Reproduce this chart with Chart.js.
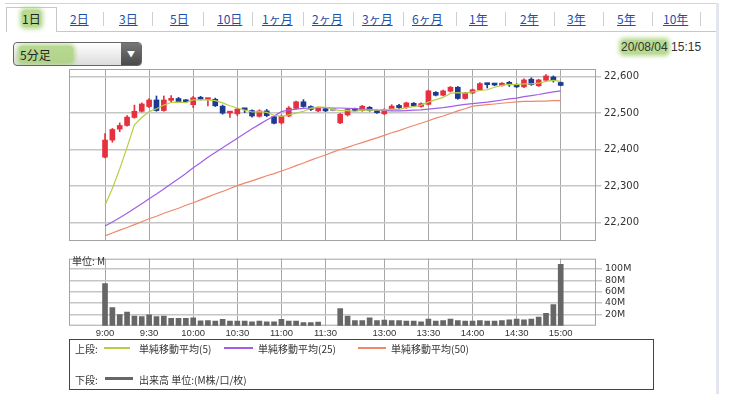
<!DOCTYPE html>
<html>
<head>
<meta charset="utf-8">
<script src="https://cdn.jsdelivr.net/npm/chart.js@4/dist/chart.umd.min.js"></script>
<style>
body { margin: 0; width: 730px; height: 394px; background: #fff; position: relative; overflow: hidden;
  font-family: "Noto Sans CJK JP", sans-serif; color: #333; }
.abs { position: absolute; }
.tabs-top { left: 5px; top: 3px; width: 711px; height: 0; border-top: 1px solid #d4d4d4; }
.tabs-line { left: 56px; top: 31px; width: 660px; height: 0; border-top: 1px solid #c8c8c8; }
.tab-sel { left: 6px; top: 7px; width: 49px; height: 24px; border: 1px solid #c8c8c8; border-bottom: none; background: #fff; }
.tab { top: 10px; font-size: 12px; color: #1d4fa8; text-decoration: underline; white-space: nowrap; }
.tab.on { color: #222; text-decoration: none; }
.sep { top: 12px; width: 0; height: 14px; border-left: 1px solid #cfcfcf; }
.hl { background: rgba(160, 205, 110, 0.75); box-shadow: 0 0 4px 2px rgba(160, 205, 110, 0.75); border-radius: 3px; }
.dd { left: 13px; top: 42px; width: 127px; height: 22px; border: 1px solid #666; border-radius: 4px;
  background: linear-gradient(#ffffff, #dcdcdc); overflow: hidden; }
.dd-btn { right: 0; top: 0; width: 20px; height: 22px; background: linear-gradient(#777, #4a4a4a); color: #fff;
  font-size: 8px; text-align: center; line-height: 22px; }
.dd-txt { left: 5px; top: 3px; font-size: 12px; color: #222; padding: 0 22px 0 1px; }
.date { left: 621px; top: 40px; font-size: 12px; font-family: "Liberation Sans", sans-serif; color: #333; white-space: nowrap; }
.edge { left: 716px; top: 3px; width: 3px; height: 391px; background: #e3e5ef; }
#priceChart { left: 60px; top: 60px; }
#volChart { left: 60px; top: 250px; }
.unit { left: 72px; top: 253px; font-size: 10px; color: #333; }
.legend { left: 69px; top: 339px; width: 585px; height: 51px; border: 1px solid #444; box-sizing: border-box; }
.lg { font-size: 10px; color: #333; white-space: nowrap; }
.lgline { height: 2px; }
</style>
</head>
<body>
<div class="abs tabs-top"></div>
<div class="abs tabs-line"></div>
<div class="abs tab-sel"></div>
<div class="abs edge"></div>

<span class="abs tab on hl" style="left:22px">1日</span>
<span class="abs tab" style="left:70px">2日</span>
<span class="abs tab" style="left:119px">3日</span>
<span class="abs tab" style="left:170px">5日</span>
<span class="abs tab" style="left:217px">10日</span>
<span class="abs tab" style="left:262px">1ヶ月</span>
<span class="abs tab" style="left:312px">2ヶ月</span>
<span class="abs tab" style="left:362px">3ヶ月</span>
<span class="abs tab" style="left:412px">6ヶ月</span>
<span class="abs tab" style="left:469px">1年</span>
<span class="abs tab" style="left:520px">2年</span>
<span class="abs tab" style="left:567px">3年</span>
<span class="abs tab" style="left:617px">5年</span>
<span class="abs tab" style="left:663px">10年</span>
<div class="abs sep" style="left:103px"></div>
<div class="abs sep" style="left:152px"></div>
<div class="abs sep" style="left:203px"></div>
<div class="abs sep" style="left:252px"></div>
<div class="abs sep" style="left:303px"></div>
<div class="abs sep" style="left:353px"></div>
<div class="abs sep" style="left:403px"></div>
<div class="abs sep" style="left:456px"></div>
<div class="abs sep" style="left:505px"></div>
<div class="abs sep" style="left:554px"></div>
<div class="abs sep" style="left:603px"></div>
<div class="abs sep" style="left:652px"></div>
<div class="abs sep" style="left:700px"></div>

<div class="abs dd">
  <span class="abs dd-txt hl">5分足</span>
  <div class="abs dd-btn">▼</div>
</div>
<div class="abs date"><span class="hl">20/08/04</span> 15:15</div>

<canvas id="priceChart" class="abs" width="660" height="190"></canvas>
<canvas id="volChart" class="abs" width="660" height="90"></canvas>
<div class="abs unit">単位: M</div>

<div class="abs legend"></div>
<span class="abs lg" style="left:75px;top:341px">上段:</span>
<div class="abs lgline" style="left:104px;top:347px;width:26px;background:#b5cf45"></div>
<span class="abs lg" style="left:139px;top:341px">単純移動平均(5)</span>
<div class="abs lgline" style="left:224px;top:347px;width:29px;background:#a35de8"></div>
<span class="abs lg" style="left:258px;top:341px">単純移動平均(25)</span>
<div class="abs lgline" style="left:358px;top:347px;width:28px;background:#f08769"></div>
<span class="abs lg" style="left:391px;top:341px">単純移動平均(50)</span>
<span class="abs lg" style="left:75px;top:372px">下段:</span>
<div class="abs lgline" style="left:105px;top:377px;width:28px;height:3px;background:#666"></div>
<span class="abs lg" style="left:139px;top:372px">出来高 単位:(M株/口/枚)</span>

<script>
// 5分足 (index 0 = 9:00, 30 = 11:30, 32 = 12:30, 62 = 15:00)
const tickIndex = [0, 6, 12, 18, 24, 30, 38, 44, 50, 56, 62];
const tickLabels = ['9:00', '9:30', '10:00', '10:30', '11:00', '11:30', '13:00', '13:30', '14:00', '14:30', '15:00'];
const priceTicks = [22200, 22300, 22400, 22500, 22600];
const volTicks = [20, 40, 60, 80, 100];

const openVals = [22379, 22426, 22456, 22466, 22488, 22505, 22518, 22536, 22507, 22535,
  22540, 22535, 22523, 22542, 22537, 22538, 22519, 22500, 22498, 22510,
  22507, 22491, 22506, 22490, 22473, 22492, 22513, 22531, 22518, 22506,
  22512, 22507, 22473, 22495, 22510, 22507, 22516, 22507, 22498, 22510,
  22521, 22515, 22527, 22518, 22524, 22557, 22549, 22560, 22571, 22540,
  22555, 22564, 22580, 22579, 22576, 22581, 22578, 22572, 22593, 22575,
  22590, 22599, 22584];
const highVals = [22444, 22458, 22473, 22493, 22522, 22528, 22540, 22547, 22547, 22548,
  22543, 22537, 22546, 22546, 22540, 22541, 22522, 22503, 22513, 22512,
  22509, 22509, 22510, 22492, 22495, 22518, 22533, 22537, 22520, 22516,
  22514, 22508, 22499, 22512, 22514, 22521, 22518, 22509, 22512, 22523,
  22524, 22530, 22529, 22528, 22563, 22559, 22563, 22573, 22573, 22557,
  22566, 22584, 22581, 22580, 22584, 22587, 22580, 22594, 22597, 22593,
  22606, 22602, 22586];
const lowVals = [22377, 22420, 22449, 22464, 22486, 22503, 22515, 22505, 22505, 22530,
  22530, 22529, 22515, 22536, 22520, 22518, 22497, 22488, 22493, 22501,
  22489, 22489, 22490, 22470, 22470, 22490, 22511, 22516, 22507, 22504,
  22504, 22506, 22471, 22492, 22505, 22505, 22505, 22499, 22496, 22508,
  22513, 22513, 22518, 22516, 22522, 22547, 22547, 22558, 22538, 22538,
  22553, 22562, 22569, 22575, 22574, 22573, 22570, 22570, 22576, 22573,
  22588, 22585, 22575];
const closeVals = [22426, 22455, 22466, 22489, 22505, 22525, 22536, 22507, 22536, 22539,
  22531, 22531, 22542, 22538, 22539, 22520, 22500, 22502, 22511, 22509,
  22492, 22506, 22493, 22472, 22491, 22514, 22531, 22518, 22510, 22513,
  22506, 22507, 22497, 22510, 22507, 22519, 22507, 22501, 22510, 22519,
  22515, 22528, 22520, 22526, 22561, 22549, 22561, 22571, 22540, 22555,
  22564, 22581, 22578, 22577, 22582, 22579, 22572, 22591, 22578, 22591,
  22602, 22590, 22576];

const ma5 = [22247, 22293, 22347, 22406, 22468, 22488, 22504, 22512, 22522, 22529,
  22530, 22529, 22536, 22536, 22536, 22534, 22528, 22520, 22514, 22508,
  22503, 22504, 22502, 22494, 22491, 22495, 22500, 22505, 22513, 22517,
  22516, 22511, 22507, 22507, 22505, 22508, 22508, 22509, 22509, 22511,
  22510, 22515, 22518, 22522, 22530, 22537, 22543, 22554, 22556, 22555,
  22558, 22562, 22564, 22571, 22576, 22579, 22578, 22580, 22580, 22582,
  22587, 22590, 22587];
const ma25 = [22190, 22201, 22213, 22225, 22238, 22251, 22265, 22278, 22292, 22306,
  22320, 22334, 22350, 22364, 22379, 22392, 22405, 22418, 22431, 22444,
  22457, 22469, 22481, 22492, 22504, 22508, 22511, 22513, 22514, 22515,
  22515, 22514, 22514, 22513, 22512, 22511, 22510, 22508, 22507, 22506,
  22506, 22507, 22508, 22509, 22511, 22513, 22515, 22518, 22521, 22524,
  22526, 22528, 22530, 22533, 22536, 22539, 22541, 22545, 22548, 22551,
  22555, 22558, 22561];
const ma50 = [22163, 22171, 22179, 22186, 22194, 22202, 22210, 22217, 22225, 22232,
  22239, 22247, 22254, 22262, 22270, 22278, 22285, 22293, 22301, 22308,
  22314, 22321, 22328, 22334, 22341, 22348, 22356, 22363, 22371, 22378,
  22385, 22393, 22400, 22406, 22413, 22419, 22426, 22432, 22439, 22446,
  22452, 22459, 22466, 22472, 22479, 22486, 22492, 22499, 22506, 22512,
  22519, 22521, 22523, 22525, 22527, 22529, 22531, 22532, 22532, 22533,
  22533, 22534, 22534];

// 出来高 (M)
const volume = [74, 32, 19.5, 24, 17, 16, 19, 16, 17, 13,
  13, 13, 14, 8.6, 9, 8, 11, 8, 8, 8,
  7, 8, 7, 7, 11, 8, 8, 5.5, 5.5, 6.5,
  null, null, 30, 17, 9, 9, 14, 9, 10, 9,
  9, 8, 8, 7, 11.7, 8, 9, 11.7, 9, 8,
  8, 9, 8, 8, 9, 10.5, 11.7, 10.5, 11.7, 15,
  22, 37, 108];

const UP = '#e6303e', DOWN = '#1c3a92', FLAT = '#9a9a9a';
const candleColor = openVals.map((o, i) => closeVals[i] > o ? UP : (closeVals[i] < o ? DOWN : FLAT));
const pts = arr => arr.map((v, i) => ({ x: i, y: v }));

const framePlugin = {
    id: 'frame',
    beforeDatasetsDraw(chart) {
        const a = chart.chartArea;
        const ctx = chart.ctx;
        ctx.save();
        ctx.strokeStyle = '#a3a3a3';
        ctx.lineWidth = 1;
        ctx.strokeRect(a.left + 0.5, a.top + 0.5, a.right - a.left - 1, a.bottom - a.top - 1);
        ctx.restore();
    }
};

const xScale = (showLabels) => ({
    type: 'linear',
    min: -4.9,
    max: 66.8,
    offset: false,
    afterBuildTicks: s => { s.ticks = tickIndex.map(v => ({ value: v })); },
    afterFit: s => { s.height = showLabels ? 14.3 : 0; },
    grid: { color: '#a6a6a6', lineWidth: 1, drawTicks: false, offset: false },
    border: { display: false },
    ticks: {
        display: showLabels,
        autoSkip: false,
        maxRotation: 0,
        padding: 2,
        color: '#333',
        font: { family: 'Liberation Sans', size: 9.5 },
        callback: v => tickLabels[tickIndex.indexOf(v)]
    }
});

new Chart(document.getElementById('priceChart'), {
    data: {
        datasets: [
            { type: 'line', data: pts(ma5), borderColor: '#b5cf45', borderWidth: 1.2, pointRadius: 0, order: 0 },
            { type: 'line', data: pts(ma25), borderColor: '#a35de8', borderWidth: 1.2, pointRadius: 0, order: 0 },
            { type: 'line', data: pts(ma50), borderColor: '#f08769', borderWidth: 1.2, pointRadius: 0, order: 0 },
            {
                type: 'bar', order: 1, grouped: false, barThickness: 5, minBarLength: 2,
                data: openVals.map((o, i) => ({ x: i, y: [o, closeVals[i]] })),
                backgroundColor: candleColor
            },
            {
                type: 'bar', order: 2, grouped: false, barThickness: 1,
                data: lowVals.map((l, i) => ({ x: i, y: [l, highVals[i]] })),
                backgroundColor: candleColor
            }
        ]
    },
    options: {
        responsive: false,
        animation: false,
        devicePixelRatio: 1,
        layout: { padding: { left: 9, top: 7, right: 0, bottom: 7 } },
        plugins: { legend: { display: false }, tooltip: { enabled: false } },
        scales: {
            x: xScale(false),
            y: {
                position: 'right',
                min: 22149,
                max: 22621,
                afterBuildTicks: s => { s.ticks = priceTicks.map(v => ({ value: v })); },
                afterFit: s => { s.width = 124; },
                grid: { color: '#c6c6c6', lineWidth: 1.5, tickLength: 5 },
                border: { display: false },
                ticks: {
                    padding: 3,
                    color: '#333',
                    font: { family: 'DejaVu Sans', size: 10 },
                    callback: v => v.toLocaleString('en-US')
                }
            }
        }
    },
    plugins: [framePlugin]
});

new Chart(document.getElementById('volChart'), {
    type: 'bar',
    data: {
        datasets: [{
            data: pts(volume),
            backgroundColor: '#666666',
            barThickness: 5
        }]
    },
    options: {
        responsive: false,
        animation: false,
        devicePixelRatio: 1,
        layout: { padding: { left: 9, top: 3, right: 0, bottom: 0 } },
        plugins: { legend: { display: false }, tooltip: { enabled: false } },
        scales: {
            x: xScale(true),
            y: {
                position: 'right',
                min: 0,
                max: 118,
                afterBuildTicks: s => { s.ticks = volTicks.map(v => ({ value: v })); },
                afterFit: s => { s.width = 124; },
                grid: { color: '#c6c6c6', lineWidth: 1.5, tickLength: 6 },
                border: { display: false },
                ticks: {
                    padding: 3,
                    color: '#333',
                    font: { family: 'DejaVu Sans', size: 9.5 },
                    callback: v => v + 'M'
                }
            }
        }
    },
    plugins: [framePlugin]
});
</script>
</body>
</html>
